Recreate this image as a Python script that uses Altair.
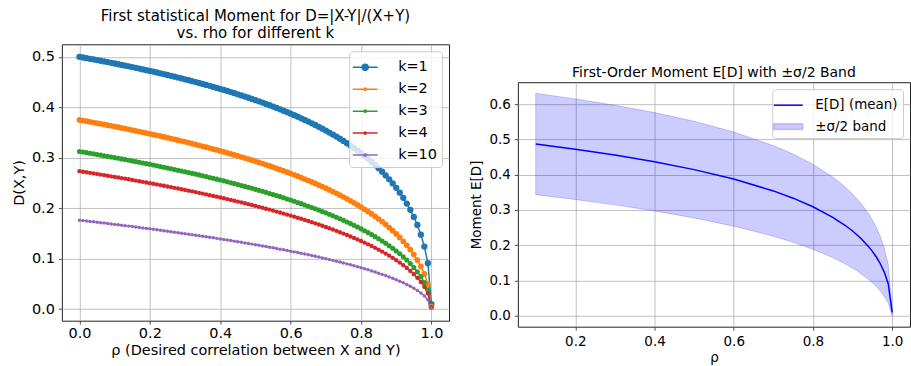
import altair as alt
import pandas as pd

FONT = "DejaVu Sans"

# ---------------- left panel data ----------------
rho = [0.0, 0.01, 0.02, 0.03, 0.04, 0.05, 0.06, 0.07, 0.08, 0.09,
       0.10, 0.11, 0.12, 0.13, 0.14, 0.15, 0.16, 0.17, 0.18, 0.19,
       0.20, 0.21, 0.22, 0.23, 0.24, 0.25, 0.26, 0.27, 0.28, 0.29,
       0.30, 0.31, 0.32, 0.33, 0.34, 0.35, 0.36, 0.37, 0.38, 0.39,
       0.40, 0.41, 0.42, 0.43, 0.44, 0.45, 0.46, 0.47, 0.48, 0.49,
       0.50, 0.51, 0.52, 0.53, 0.54, 0.55, 0.56, 0.57, 0.58, 0.59,
       0.60, 0.61, 0.62, 0.63, 0.64, 0.65, 0.66, 0.67, 0.68, 0.69,
       0.70, 0.71, 0.72, 0.73, 0.74, 0.75, 0.76, 0.77, 0.78, 0.79,
       0.80, 0.81, 0.82, 0.83, 0.84, 0.85, 0.86, 0.87, 0.88, 0.89,
       0.90, 0.91, 0.92, 0.93, 0.94, 0.95, 0.96, 0.97, 0.98, 0.99, 0.9999]

k1 = [0.5000, 0.4987, 0.4975, 0.4962, 0.4949, 0.4936, 0.4923, 0.4909, 0.4896, 0.4882,
      0.4868, 0.4854, 0.4840, 0.4826, 0.4812, 0.4797, 0.4782, 0.4767, 0.4752, 0.4737,
      0.4721, 0.4706, 0.4690, 0.4674, 0.4657, 0.4641, 0.4624, 0.4607, 0.4590, 0.4573,
      0.4555, 0.4538, 0.4519, 0.4501, 0.4482, 0.4464, 0.4444, 0.4425, 0.4405, 0.4385,
      0.4365, 0.4344, 0.4323, 0.4302, 0.4280, 0.4258, 0.4236, 0.4213, 0.4190, 0.4166,
      0.4142, 0.4118, 0.4093, 0.4067, 0.4041, 0.4015, 0.3988, 0.3960, 0.3932, 0.3904,
      0.3874, 0.3844, 0.3814, 0.3782, 0.3750, 0.3717, 0.3683, 0.3649, 0.3613, 0.3576,
      0.3539, 0.3500, 0.3460, 0.3419, 0.3377, 0.3333, 0.3288, 0.3241, 0.3193, 0.3143,
      0.3090, 0.3036, 0.2979, 0.2919, 0.2857, 0.2792, 0.2723, 0.2650, 0.2573, 0.2491,
      0.2403, 0.2308, 0.2205, 0.2092, 0.1968, 0.1827, 0.1667, 0.1476, 0.1239, 0.0909, 0.0099]

k2 = [0.3750, 0.3737, 0.3725, 0.3712, 0.3699, 0.3686, 0.3673, 0.3660, 0.3646, 0.3633,
      0.3619, 0.3605, 0.3592, 0.3578, 0.3563, 0.3549, 0.3535, 0.3520, 0.3505, 0.3490,
      0.3475, 0.3460, 0.3445, 0.3429, 0.3413, 0.3397, 0.3381, 0.3365, 0.3349, 0.3332,
      0.3315, 0.3298, 0.3281, 0.3264, 0.3246, 0.3228, 0.3210, 0.3192, 0.3173, 0.3154,
      0.3135, 0.3116, 0.3096, 0.3076, 0.3056, 0.3036, 0.3015, 0.2994, 0.2973, 0.2951,
      0.2929, 0.2907, 0.2884, 0.2861, 0.2837, 0.2813, 0.2789, 0.2764, 0.2739, 0.2714,
      0.2688, 0.2661, 0.2634, 0.2606, 0.2578, 0.2549, 0.2520, 0.2490, 0.2459, 0.2428,
      0.2396, 0.2363, 0.2329, 0.2294, 0.2259, 0.2222, 0.2185, 0.2146, 0.2106, 0.2065,
      0.2023, 0.1979, 0.1933, 0.1886, 0.1837, 0.1786, 0.1732, 0.1676, 0.1617, 0.1555,
      0.1490, 0.1420, 0.1345, 0.1265, 0.1177, 0.1081, 0.0972, 0.0847, 0.0696, 0.0496, 0.0050]

k3 = [0.3125, 0.3113, 0.3101, 0.3089, 0.3077, 0.3065, 0.3053, 0.3041, 0.3028, 0.3016,
      0.3003, 0.2990, 0.2977, 0.2964, 0.2951, 0.2938, 0.2924, 0.2911, 0.2897, 0.2883,
      0.2870, 0.2856, 0.2841, 0.2827, 0.2813, 0.2798, 0.2783, 0.2768, 0.2753, 0.2738,
      0.2723, 0.2707, 0.2691, 0.2676, 0.2660, 0.2643, 0.2627, 0.2610, 0.2593, 0.2576,
      0.2559, 0.2542, 0.2524, 0.2506, 0.2488, 0.2470, 0.2451, 0.2432, 0.2413, 0.2394,
      0.2374, 0.2354, 0.2334, 0.2314, 0.2293, 0.2272, 0.2250, 0.2229, 0.2207, 0.2184,
      0.2161, 0.2138, 0.2114, 0.2090, 0.2065, 0.2040, 0.2015, 0.1989, 0.1962, 0.1935,
      0.1908, 0.1879, 0.1850, 0.1821, 0.1790, 0.1759, 0.1727, 0.1695, 0.1661, 0.1626,
      0.1591, 0.1554, 0.1516, 0.1477, 0.1436, 0.1394, 0.1350, 0.1304, 0.1256, 0.1205,
      0.1152, 0.1096, 0.1036, 0.0972, 0.0902, 0.0826, 0.0741, 0.0643, 0.0527, 0.0374, 0.0038]

k4 = [0.2734, 0.2723, 0.2712, 0.2701, 0.2690, 0.2679, 0.2667, 0.2656, 0.2644, 0.2632,
      0.2621, 0.2609, 0.2597, 0.2585, 0.2573, 0.2560, 0.2548, 0.2535, 0.2523, 0.2510,
      0.2497, 0.2484, 0.2471, 0.2458, 0.2445, 0.2431, 0.2418, 0.2404, 0.2390, 0.2376,
      0.2362, 0.2348, 0.2334, 0.2319, 0.2304, 0.2289, 0.2274, 0.2259, 0.2244, 0.2228,
      0.2213, 0.2197, 0.2181, 0.2165, 0.2148, 0.2131, 0.2115, 0.2098, 0.2080, 0.2063,
      0.2045, 0.2027, 0.2009, 0.1990, 0.1972, 0.1953, 0.1933, 0.1914, 0.1894, 0.1874,
      0.1853, 0.1832, 0.1811, 0.1790, 0.1768, 0.1746, 0.1723, 0.1700, 0.1676, 0.1652,
      0.1628, 0.1603, 0.1577, 0.1551, 0.1524, 0.1497, 0.1469, 0.1440, 0.1411, 0.1380,
      0.1349, 0.1317, 0.1284, 0.1250, 0.1215, 0.1178, 0.1140, 0.1100, 0.1059, 0.1016,
      0.0970, 0.0922, 0.0871, 0.0816, 0.0757, 0.0692, 0.0620, 0.0538, 0.0440, 0.0312, 0.0031]

k10 = [0.1762, 0.1754, 0.1746, 0.1738, 0.1730, 0.1721, 0.1713, 0.1705, 0.1696, 0.1688,
       0.1679, 0.1671, 0.1662, 0.1653, 0.1645, 0.1636, 0.1627, 0.1618, 0.1609, 0.1600,
       0.1591, 0.1581, 0.1572, 0.1563, 0.1553, 0.1544, 0.1534, 0.1525, 0.1515, 0.1505,
       0.1495, 0.1485, 0.1475, 0.1465, 0.1455, 0.1444, 0.1434, 0.1423, 0.1413, 0.1402,
       0.1391, 0.1380, 0.1369, 0.1358, 0.1347, 0.1335, 0.1324, 0.1312, 0.1300, 0.1288,
       0.1276, 0.1264, 0.1252, 0.1239, 0.1227, 0.1214, 0.1201, 0.1188, 0.1175, 0.1161,
       0.1147, 0.1134, 0.1120, 0.1105, 0.1091, 0.1076, 0.1061, 0.1046, 0.1031, 0.1015,
       0.0999, 0.0983, 0.0966, 0.0949, 0.0932, 0.0914, 0.0896, 0.0878, 0.0859, 0.0840,
       0.0820, 0.0800, 0.0779, 0.0757, 0.0735, 0.0712, 0.0688, 0.0664, 0.0638, 0.0611,
       0.0583, 0.0554, 0.0522, 0.0489, 0.0453, 0.0414, 0.0370, 0.0321, 0.0262, 0.0185, 0.0019]

series_names = ["k=1", "k=2", "k=3", "k=4", "k=10"]
series_colors = ["#1f77b4", "#ff7f0e", "#2ca02c", "#d62728", "#9467bd"]
marker_sizes = [40, 12, 12, 12, 12]

x_ticks_left = [0.0, 0.2, 0.4, 0.6, 0.8, 1.0]
y_ticks_left = [0.0, 0.1, 0.2, 0.3, 0.4, 0.5]

# ---------------- right panel data ----------------
rho_r = [0.1, 0.2, 0.3, 0.4, 0.5, 0.6, 0.7, 0.75, 0.8, 0.85, 0.88, 0.9,
         0.92, 0.94, 0.95, 0.96, 0.97, 0.98, 0.99, 0.9999]
mean_r = [0.4868, 0.4721, 0.4555, 0.4365, 0.4142, 0.3874, 0.3539, 0.3333, 0.3090, 0.2792,
          0.2573, 0.2403, 0.2205, 0.1968, 0.1827, 0.1667, 0.1476, 0.1239, 0.0909, 0.0099]
upper_r = [0.6303, 0.6146, 0.5966, 0.5758, 0.5510, 0.5208, 0.4823, 0.4583, 0.4294, 0.3934,
           0.3665, 0.3454, 0.3204, 0.2899, 0.2716, 0.2504, 0.2248, 0.1924, 0.1457, 0.0190]
lower_r = [0.3433, 0.3296, 0.3144, 0.2972, 0.2774, 0.2540, 0.2255, 0.2083, 0.1886, 0.1650,
           0.1481, 0.1352, 0.1206, 0.1037, 0.0938, 0.0830, 0.0704, 0.0554, 0.0361, 0.0008]

right_names = ["E[D] (mean)", "±σ/2 band"]
x_ticks_right = [0.2, 0.4, 0.6, 0.8, 1.0]
y_ticks_right = [0.0, 0.1, 0.2, 0.3, 0.4, 0.5, 0.6]

# ---------------- build tables ----------------
rows = []
for name, vals in zip(series_names, [k1, k2, k3, k4, k10]):
    for r, v in zip(rho, vals):
        rows.append({"rho": r, "D": v, "k": name})
df_left = pd.DataFrame(rows)

df_band = pd.DataFrame({"rho": rho_r, "lo": lower_r, "hi": upper_r, "series": right_names[1]})
df_mean = pd.DataFrame({"rho": rho_r, "m": mean_r, "series": right_names[0]})

# legend glyphs (unit = half of sqrt(symbolSize))
LINE = "M-1.25,0L1.25,0"
BIG = ("M0.3,0A0.3,0.3,0,1,1,-0.3,0A0.3,0.3,0,1,1,0.3,0"
       "M0.14,0A0.14,0.14,0,1,1,-0.14,0A0.14,0.14,0,1,1,0.14,0")
SMALL = "M0.11,0A0.11,0.11,0,1,1,-0.11,0A0.11,0.11,0,1,1,0.11,0"
left_shapes = [LINE + BIG] + [LINE + SMALL] * 4
right_shapes = ["M-1.45,0L1.45,0", "M-1.45,-0.28L1.45,-0.28L1.45,0.28L-1.45,0.28Z"]

# ---------------- left chart ----------------
x_left = alt.X("rho:Q",
               scale=alt.Scale(domain=[-0.05, 1.05], nice=False, zero=False),
               axis=alt.Axis(values=x_ticks_left, format=".1f",
                             title="ρ (Desired correlation between X and Y)",
                             labelFontSize=14.5, titleFontSize=14.5,
                             labelPadding=2, titlePadding=4))
y_left = alt.Y("D:Q",
               scale=alt.Scale(domain=[-0.023, 0.5249], nice=False, zero=False),
               axis=alt.Axis(values=y_ticks_left, format=".1f", title="D(X,Y)",
                             labelFontSize=14.5, titleFontSize=14.5,
                             labelPadding=4, titlePadding=5))

legend_left = alt.Legend(title=None, orient="top-right", offset=7, padding=5,
                         fillColor="rgba(255,255,255,0.8)", strokeColor="#cccccc",
                         cornerRadius=3, labelFont=FONT, labelFontSize=14.5,
                         labelColor="#000000", symbolSize=400, symbolStrokeWidth=1.5,
                         symbolOpacity=1, rowPadding=4, labelOffset=22)

lines = alt.Chart(df_left).mark_line(strokeWidth=1.5).encode(
    x=x_left, y=y_left,
    stroke=alt.Stroke("k:N", scale=alt.Scale(domain=series_names, range=series_colors),
                      legend=legend_left),
)
points = alt.Chart(df_left).mark_point(filled=True, opacity=1).encode(
    x=x_left, y=y_left,
    fill=alt.Fill("k:N", scale=alt.Scale(domain=series_names, range=series_colors),
                  legend=legend_left),
    size=alt.Size("k:N", scale=alt.Scale(domain=series_names, range=marker_sizes),
                  legend=None),
)
shapes_left = alt.Chart(df_left).transform_filter("false").mark_point(filled=True, opacity=1).encode(
    shape=alt.Shape("k:N", scale=alt.Scale(domain=series_names, range=left_shapes),
                    legend=legend_left),
)

left = alt.layer(lines, points, shapes_left).properties(
    width=388, height=277,
    title=alt.TitleParams(["First statistical Moment for D=|X-Y|/(X+Y)",
                           "vs. rho for different k"],
                          fontSize=15, lineHeight=17, offset=3, frame="group",
                          anchor="middle"),
)

# ---------------- right chart ----------------
x_right = alt.X("rho:Q",
                scale=alt.Scale(domain=[0.055, 1.045], nice=False, zero=False),
                axis=alt.Axis(values=x_ticks_right, format=".1f", title="ρ",
                              labelFontSize=13.5, titleFontSize=13.5,
                              labelPadding=4, titlePadding=3))
y_axis_right = alt.Axis(values=y_ticks_right, format=".1f", title="Moment E[D]",
                        labelFontSize=13.5, titleFontSize=13.5,
                        labelPadding=4, titlePadding=5)
y_scale_right = alt.Scale(domain=[-0.0307, 0.6618], nice=False, zero=False)

legend_right = alt.Legend(title=None, orient="top-right", offset=7, padding=5,
                          fillColor="rgba(255,255,255,0.8)", strokeColor="#cccccc",
                          cornerRadius=3, labelFont=FONT, labelFontSize=13.5,
                          labelColor="#000000", symbolSize=400, symbolStrokeWidth=1.5,
                          symbolOpacity=1, rowPadding=3.5, labelOffset=16)

stroke_right = alt.Scale(domain=right_names, range=["#0000ff", "rgba(0,0,255,0.2)"])
fill_right = alt.Scale(domain=right_names, range=["transparent", "rgba(0,0,255,0.2)"])

band = alt.Chart(df_band).mark_area(strokeWidth=1).encode(
    x=x_right,
    y=alt.Y("lo:Q", scale=y_scale_right, axis=y_axis_right),
    y2="hi:Q",
    fill=alt.Fill("series:N", scale=fill_right, legend=legend_right),
    stroke=alt.Stroke("series:N", scale=stroke_right, legend=legend_right),
)
mean_line = alt.Chart(df_mean).mark_line(strokeWidth=1.5).encode(
    x=x_right,
    y=alt.Y("m:Q", scale=y_scale_right, axis=y_axis_right),
    stroke=alt.Stroke("series:N", scale=stroke_right, legend=legend_right),
)
shapes_right = alt.Chart(df_mean).transform_filter("false").mark_point(filled=True, opacity=1).encode(
    shape=alt.Shape("series:N", scale=alt.Scale(domain=right_names, range=right_shapes),
                    legend=legend_right),
)

right = alt.layer(band, mean_line, shapes_right).properties(
    width=393, height=245,
    title=alt.TitleParams("First-Order Moment E[D] with ±σ/2 Band",
                          fontSize=14, offset=2, frame="group", anchor="middle"),
)

# empty spacer that pushes the right panel down
spacer = alt.Chart(pd.DataFrame({"a": [0]})).mark_point(opacity=0).encode(
    x=alt.value(0), y=alt.value(0)
).properties(width=393, height=2, view=alt.ViewBackground(stroke="transparent"))

right_col = alt.vconcat(spacer, right, spacing=17).resolve_scale(
    stroke="independent", fill="independent", shape="independent"
).resolve_legend(
    stroke="independent", fill="independent", shape="independent"
)

chart = alt.hconcat(left, right_col, spacing=19).resolve_scale(
    stroke="independent", fill="independent", shape="independent"
).resolve_legend(
    stroke="independent", fill="independent", shape="independent"
).properties(
    padding={"left": 10, "top": 8, "right": 0, "bottom": 0}
).configure(font=FONT).configure_view(
    stroke="#222222", strokeWidth=1
).configure_axis(
    grid=True, gridColor="#b0b0b0", gridWidth=0.8, domain=False,
    tickColor="#222222", tickSize=3.5, tickWidth=0.8,
    labelColor="#000000", titleColor="#000000", labelFont=FONT, titleFont=FONT,
    titleFontWeight="normal", labelFlush=False, labelOverlap=False
).configure_title(font=FONT, fontWeight="normal", color="#000000")

chart.save("out.html", embed_options={"renderer": "svg", "actions": False})
